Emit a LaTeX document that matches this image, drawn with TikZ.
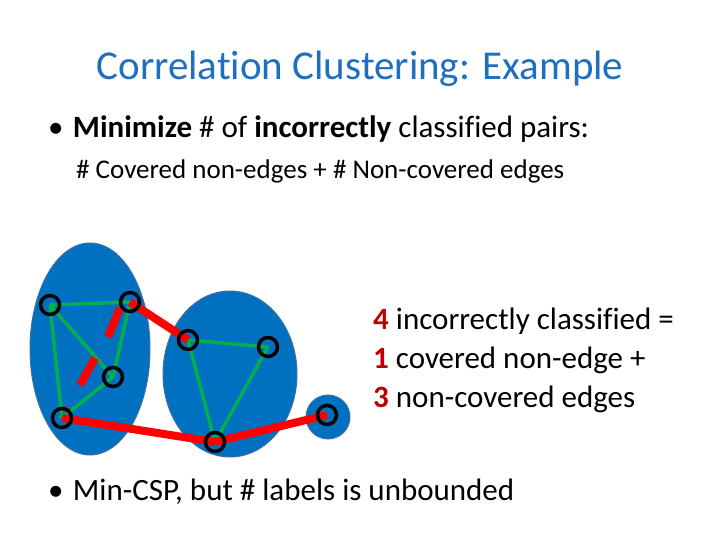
\documentclass[tikz,border=0pt]{standalone}
\usepackage{fontspec}
\setmainfont[Ligatures=NoCommon]{Carlito}
\begin{document}
\begin{tikzpicture}[x=1pt,y=-1pt,
  vtx/.style={circle,draw=black,line width=3.5pt,minimum size=19pt,inner sep=0pt},
  good/.style={line width=3.5pt,color={rgb,255:red,0;green,176;blue,80}},
  bad/.style={line width=8pt,color={rgb,255:red,255;green,0;blue,0}},
  blob/.style={fill={rgb,255:red,0;green,112;blue,192},draw={rgb,255:red,65;green,113;blue,156},line width=1pt},
  txt/.style={anchor=base west,inner sep=0pt}]
\useasboundingbox (0,0) rectangle (720,540);
\fill[white] (0,0) rectangle (720,540);
\node[anchor=base,inner sep=0pt,font=\fontsize{41}{48}\selectfont,text={rgb,255:red,31;green,111;blue,192}] (title) at (360,80) {Correlation Clustering: Example};
\node[txt,font=\fontsize{31}{36}\selectfont] (b1) at (48,138) {\textbullet\hspace{0.3em}\textbf{Minimize} \# of \textbf{incorrectly} classified pairs:};
\node[txt,font=\fontsize{27}{32}\selectfont] (b1s) at (76,179) {\# Covered non-edges + \# Non-covered edges};
\node[txt,font=\fontsize{31}{36}\selectfont] (b2) at (48,500) {\textbullet\hspace{0.3em}Min-CSP, but \# labels is unbounded};
\node[txt,font=\fontsize{31}{36}\selectfont] (r1) at (373,329) {\textcolor[RGB]{192,0,0}{\textbf{4}} incorrectly classified =};
\node[txt,font=\fontsize{31}{36}\selectfont] (r2) at (373,368) {\textcolor[RGB]{192,0,0}{\textbf{1}} covered non-edge +};
\node[txt,font=\fontsize{31}{36}\selectfont] (r3) at (373,407) {\textcolor[RGB]{192,0,0}{\textbf{3}} non-covered edges};
\path[blob] (90,349) ellipse [x radius=60,y radius=106];
\path[blob] (230,374) ellipse [x radius=67,y radius=83];
\path[blob] (328,417) circle [radius=22];
\coordinate (A) at (50,305);
\coordinate (B) at (130,302);
\coordinate (C) at (113,377);
\coordinate (D) at (62,418);
\coordinate (E) at (188,340);
\coordinate (F) at (268,347);
\coordinate (G) at (215,442);
\coordinate (H) at (327,415);
\draw[good] (A)--(B) (A)--(C) (A)--(D) (B)--(C) (C)--(D) (E)--(F) (E)--(G) (F)--(G);
\draw[bad] (B)--(E) (D)--(G) (G)--(H);
\draw[bad] (120,308)--(108,337);
\draw[bad] (95,358)--(80,385);
\draw[bad,line width=3pt] (64,407)--(70,411);
\foreach \n in {A,B,C,D,E,F,G,H} \node[vtx] (v\n) at (\n) {};
\end{tikzpicture}
\end{document}
